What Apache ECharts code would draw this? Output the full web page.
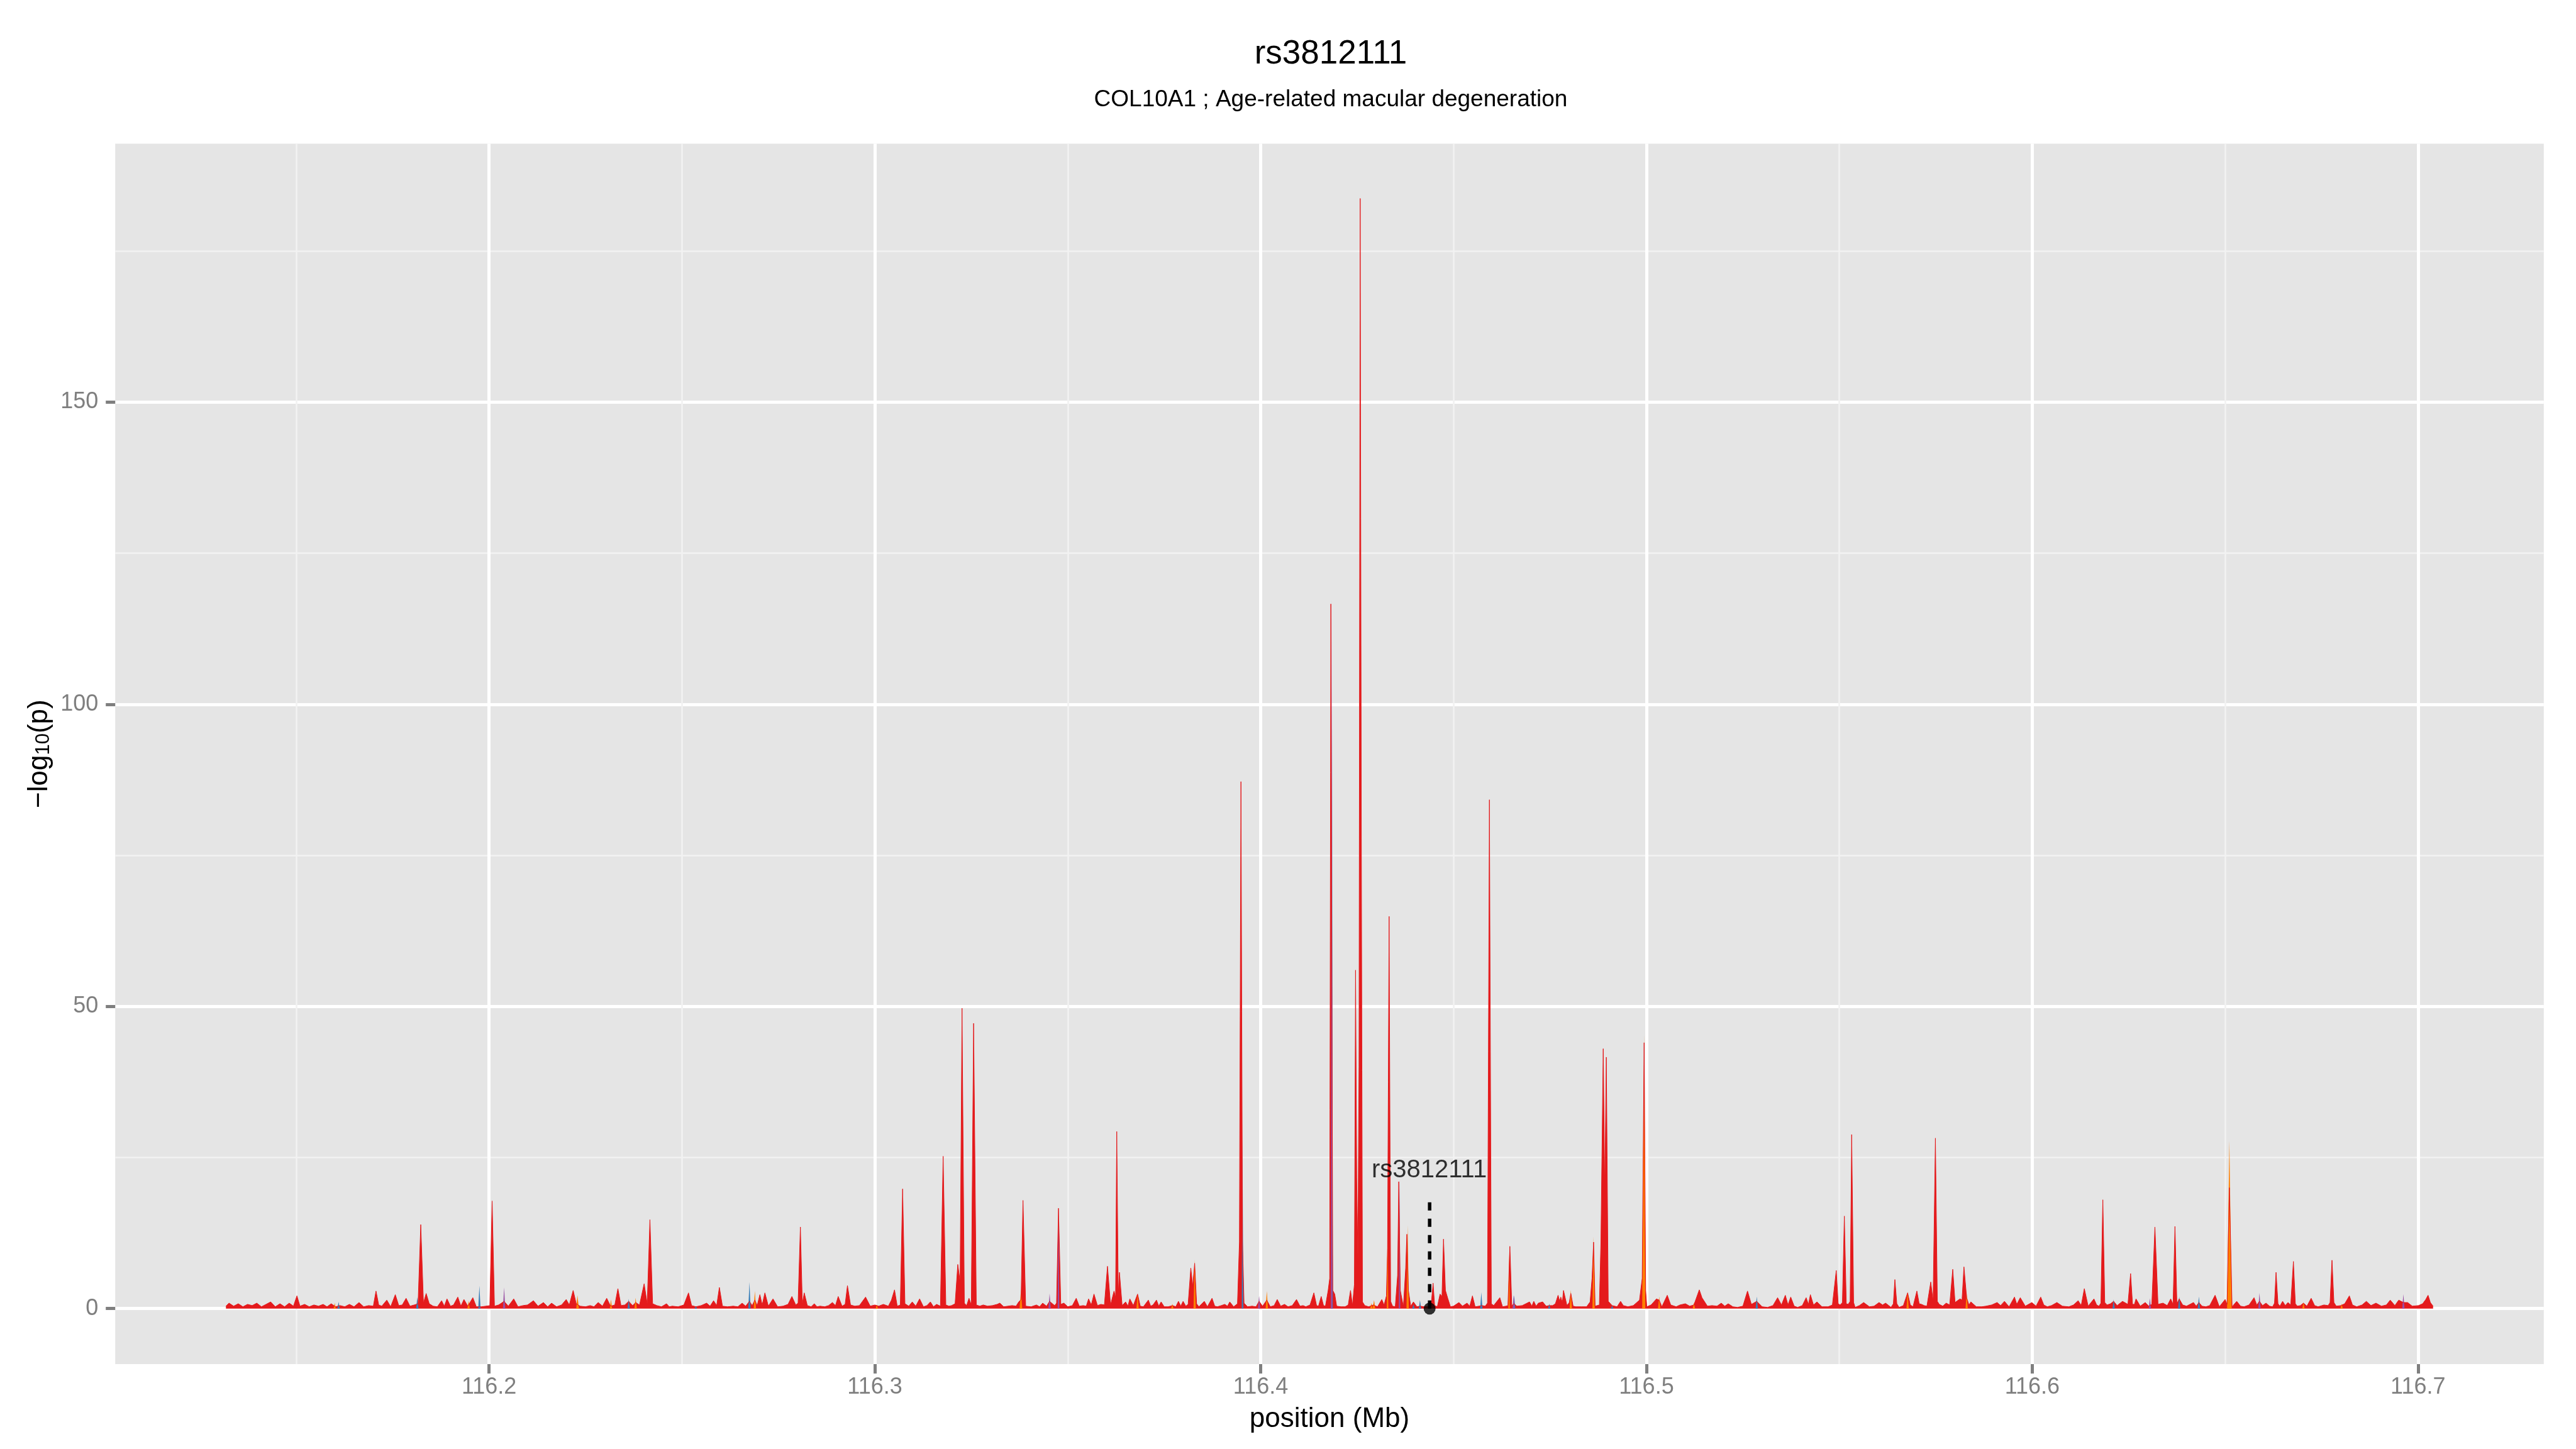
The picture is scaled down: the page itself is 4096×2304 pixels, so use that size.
<!DOCTYPE html>
<html>
<head>
<meta charset="utf-8">
<script src="https://cdn.jsdelivr.net/npm/echarts@6/dist/echarts.min.js"></script>
<style>
  html, body { margin: 0; padding: 0; background: #fff; }
  #chart { width: 4096px; height: 2304px; }
</style>
</head>
<body>
<div id="chart"></div>
<script>
// axis ranges (ggplot panel incl. expansion)
const X_MIN = 116.1031, X_MAX = 116.7326
const Y_MIN = -9.18, Y_MAX = 192.77
const xTicks = [116.2, 116.3, 116.4, 116.5, 116.6, 116.7]
const xMinorTicks = [116.15, 116.25, 116.35, 116.45, 116.55, 116.65]
const yTicks = [0, 50, 100, 150]
const yMinorTicks = [25, 75, 125, 175]

// lead SNP
const snpName = 'rs3812111'
const snpPos = 116.4438
const snpVal = 0
const snpLineTop = 18.4
const snpLabelVal = 22.9

// [position (Mb), -log10(p)]
const redPoints = [
  [116.1318,0.4],[116.1326,0.9],[116.1338,0.4],[116.1350,0.8],[116.1362,0.3],[116.1374,0.7],[116.1386,0.5],[116.1398,0.9],[116.1410,0.3],[116.1422,0.7],[116.1434,1.1],[116.1446,0.3],[116.1458,0.8],[116.1470,0.3],[116.1482,0.9],[116.1493,0.4],[116.1502,2.1],[116.1510,0.4],[116.1522,0.7],[116.1534,0.3],[116.1546,0.6],[116.1558,0.4],[116.1570,0.7],[116.1580,0.3],[116.1591,0.8],[116.1602,0.3],[116.1614,0.5],[116.1626,0.3],[116.1638,0.7],[116.1650,0.3],[116.1663,1.0],[116.1675,0.3],[116.1688,0.5],[116.1700,0.4],[116.1707,2.9],[116.1714,0.6],[116.1722,0.4],[116.1735,1.4],[116.1745,0.3],[116.1757,2.3],[116.1766,0.5],[116.1775,0.6],[116.1785,1.7],[116.1795,0.4],[116.1806,0.6],[116.1816,0.8],[116.1823,13.9],[116.1830,0.9],[116.1837,2.5],[116.1845,0.8],[116.1855,0.4],[116.1866,0.3],[116.1877,1.3],[116.1884,0.4],[116.1891,1.6],[116.1900,0.4],[116.1908,0.6],[116.1919,1.9],[116.1927,0.4],[116.1935,1.5],[116.1945,0.4],[116.1958,1.8],[116.1967,0.3],[116.1980,0.3],[116.1992,0.4],[116.2002,0.5],[116.2008,17.8],[116.2014,0.4],[116.2025,0.6],[116.2039,1.2],[116.2050,0.4],[116.2064,1.6],[116.2075,0.3],[116.2088,0.5],[116.2100,0.6],[116.2115,1.3],[116.2127,0.4],[116.2141,1.0],[116.2152,0.3],[116.2162,0.9],[116.2175,0.3],[116.2188,0.6],[116.2200,1.5],[116.2208,0.6],[116.2218,3.0],[116.2226,0.8],[116.2236,0.4],[116.2250,0.3],[116.2262,0.5],[116.2272,0.3],[116.2283,1.0],[116.2294,0.4],[116.2305,1.7],[116.2315,0.4],[116.2326,0.6],[116.2334,3.3],[116.2342,0.5],[116.2352,0.6],[116.2362,1.2],[116.2372,0.5],[116.2380,1.0],[116.2390,0.6],[116.2402,4.1],[116.2410,0.8],[116.2417,14.7],[116.2424,0.8],[116.2435,0.5],[116.2447,0.3],[116.2460,0.8],[116.2467,0.3],[116.2475,0.4],[116.2490,0.3],[116.2505,0.6],[116.2517,2.6],[116.2525,0.5],[116.2536,0.3],[116.2550,0.5],[116.2564,0.9],[116.2573,0.4],[116.2582,1.3],[116.2590,0.5],[116.2597,3.5],[116.2605,0.4],[116.2618,0.3],[116.2633,0.4],[116.2645,0.3],[116.2656,0.9],[116.2665,0.4],[116.2675,1.2],[116.2682,0.5],[116.2689,1.4],[116.2695,0.5],[116.2702,2.3],[116.2708,0.6],[116.2715,2.6],[116.2724,0.4],[116.2736,1.6],[116.2748,0.3],[116.2762,0.4],[116.2775,0.7],[116.2785,2.0],[116.2795,0.6],[116.2801,0.9],[116.2807,13.5],[116.2812,0.8],[116.2817,2.6],[116.2825,0.5],[116.2835,0.3],[116.2843,0.8],[116.2850,0.3],[116.2858,0.4],[116.2870,0.3],[116.2880,0.5],[116.2890,1.0],[116.2898,0.5],[116.2905,2.0],[116.2915,0.4],[116.2923,0.7],[116.2929,3.8],[116.2937,0.6],[116.2948,0.4],[116.2960,0.5],[116.2976,1.9],[116.2988,0.4],[116.3000,0.6],[116.3010,0.4],[116.3022,0.7],[116.3035,0.4],[116.3043,1.4],[116.3051,3.1],[116.3058,0.4],[116.3066,0.6],[116.3072,19.8],[116.3078,0.8],[116.3088,0.4],[116.3097,1.1],[116.3106,0.4],[116.3116,1.6],[116.3126,0.3],[116.3135,0.5],[116.3144,1.1],[116.3152,0.3],[116.3160,0.7],[116.3170,0.4],[116.3177,25.2],[116.3184,0.6],[116.3192,0.4],[116.3199,0.5],[116.3208,0.8],[116.3215,7.3],[116.3221,4.4],[116.3226,49.7],[116.3232,0.9],[116.3238,0.5],[116.3244,1.7],[116.3250,0.6],[116.3256,47.2],[116.3263,0.6],[116.3272,0.4],[116.3281,0.6],[116.3292,0.4],[116.3305,0.5],[116.3317,0.7],[116.3324,0.9],[116.3334,0.3],[116.3345,0.4],[116.3356,0.5],[116.3366,0.4],[116.3373,1.1],[116.3379,1.5],[116.3384,17.9],[116.3391,0.4],[116.3405,0.3],[116.3419,0.6],[116.3427,0.3],[116.3435,0.9],[116.3445,0.4],[116.3453,1.2],[116.3466,0.5],[116.3471,0.9],[116.3476,16.6],[116.3482,0.7],[116.3490,0.9],[116.3500,0.3],[116.3512,0.5],[116.3522,1.7],[116.3530,0.4],[116.3540,0.5],[116.3548,0.4],[116.3554,1.6],[116.3561,0.6],[116.3568,2.4],[116.3577,0.5],[116.3586,0.7],[116.3595,0.6],[116.3603,7.0],[116.3611,0.6],[116.3620,2.9],[116.3624,1.8],[116.3627,29.3],[116.3631,2.2],[116.3634,6.0],[116.3641,0.5],[116.3650,1.1],[116.3656,0.4],[116.3661,1.6],[116.3670,0.5],[116.3681,2.4],[116.3688,0.4],[116.3696,0.3],[116.3709,1.4],[116.3715,0.4],[116.3721,0.6],[116.3730,1.4],[116.3736,0.4],[116.3742,1.1],[116.3750,0.3],[116.3760,0.3],[116.3772,0.5],[116.3780,0.3],[116.3787,1.2],[116.3793,0.4],[116.3799,1.2],[116.3806,0.4],[116.3812,0.7],[116.3819,6.7],[116.3824,3.7],[116.3829,7.5],[116.3834,0.8],[116.3840,0.3],[116.3854,1.2],[116.3862,0.3],[116.3874,1.7],[116.3881,0.4],[116.3888,0.3],[116.3898,0.5],[116.3907,0.7],[116.3914,0.4],[116.3920,1.1],[116.3930,0.3],[116.3940,0.8],[116.3945,11.0],[116.3949,87.2],[116.3953,11.0],[116.3957,0.9],[116.3966,0.3],[116.3978,0.4],[116.3988,0.3],[116.3996,1.2],[116.4005,0.4],[116.4016,1.4],[116.4025,0.3],[116.4035,0.5],[116.4043,1.5],[116.4052,0.4],[116.4062,0.7],[116.4071,0.3],[116.4082,0.5],[116.4093,1.5],[116.4102,0.4],[116.4110,0.5],[116.4117,0.3],[116.4128,0.6],[116.4138,2.6],[116.4145,0.5],[116.4150,0.4],[116.4157,2.0],[116.4163,0.5],[116.4168,0.4],[116.4175,3.0],[116.4179,5.0],[116.4182,116.6],[116.4187,3.0],[116.4192,2.4],[116.4197,0.4],[116.4208,0.3],[116.4219,0.3],[116.4227,0.6],[116.4233,3.0],[116.4238,0.5],[116.4243,4.0],[116.4246,56.0],[116.4249,21.7],[116.4252,8.0],[116.4255,40.0],[116.4258,183.7],[116.4261,77.8],[116.4264,1.1],[116.4270,0.5],[116.4280,0.3],[116.4292,0.6],[116.4303,0.3],[116.4314,1.5],[116.4320,0.6],[116.4326,2.1],[116.4329,10.0],[116.4333,64.9],[116.4337,1.2],[116.4342,0.4],[116.4349,0.3],[116.4355,5.5],[116.4358,21.0],[116.4362,3.0],[116.4370,0.3],[116.4376,6.7],[116.4379,12.3],[116.4383,3.0],[116.4389,0.4],[116.4396,1.1],[116.4405,0.3],[116.4414,0.4],[116.4423,0.3],[116.4433,0.3],[116.4442,0.6],[116.4447,4.2],[116.4451,0.5],[116.4458,0.3],[116.4465,2.4],[116.4470,2.0],[116.4474,11.5],[116.4479,3.0],[116.4485,1.7],[116.4492,0.3],[116.4500,0.4],[116.4514,1.0],[116.4523,0.4],[116.4535,0.9],[116.4542,0.4],[116.4549,2.1],[116.4556,0.3],[116.4566,0.4],[116.4574,0.5],[116.4582,0.4],[116.4588,0.9],[116.4593,84.2],[116.4598,0.8],[116.4604,0.5],[116.4609,0.9],[116.4620,1.8],[116.4627,0.3],[116.4636,0.4],[116.4641,0.5],[116.4646,10.3],[116.4651,0.5],[116.4657,0.8],[116.4664,0.4],[116.4678,0.5],[116.4697,1.1],[116.4703,0.4],[116.4708,1.2],[116.4714,0.4],[116.4720,0.9],[116.4731,1.1],[116.4740,0.4],[116.4748,0.5],[116.4757,0.5],[116.4764,0.8],[116.4771,2.2],[116.4775,1.2],[116.4778,1.9],[116.4782,1.0],[116.4785,3.0],[116.4794,0.5],[116.4800,1.0],[116.4804,2.5],[116.4810,0.4],[116.4817,0.3],[116.4831,0.3],[116.4845,0.3],[116.4854,1.1],[116.4859,5.0],[116.4863,11.0],[116.4867,0.4],[116.4878,0.6],[116.4882,11.0],[116.4888,43.0],[116.4892,19.3],[116.4896,41.6],[116.4901,1.2],[116.4911,0.5],[116.4924,0.3],[116.4933,1.2],[116.4940,0.5],[116.4952,0.3],[116.4966,0.5],[116.4982,1.4],[116.4989,5.0],[116.4994,44.0],[116.4998,3.0],[116.5001,0.3],[116.5012,0.6],[116.5026,1.6],[116.5033,1.4],[116.5040,0.3],[116.5054,2.2],[116.5063,0.6],[116.5077,0.3],[116.5087,0.6],[116.5101,0.8],[116.5112,0.4],[116.5123,0.6],[116.5137,3.1],[116.5144,1.8],[116.5158,0.4],[116.5170,0.5],[116.5183,0.4],[116.5194,0.9],[116.5203,0.4],[116.5212,0.8],[116.5224,0.3],[116.5236,0.2],[116.5250,0.4],[116.5262,2.9],[116.5272,0.7],[116.5286,1.2],[116.5300,0.3],[116.5314,0.2],[116.5328,0.5],[116.5340,1.8],[116.5350,0.6],[116.5360,2.2],[116.5367,0.6],[116.5374,1.9],[116.5383,0.4],[116.5392,0.2],[116.5404,0.5],[116.5414,1.8],[116.5420,0.7],[116.5425,2.3],[116.5433,0.6],[116.5442,1.1],[116.5455,0.3],[116.5471,0.3],[116.5482,0.6],[116.5492,6.3],[116.5497,0.8],[116.5502,0.6],[116.5508,1.0],[116.5513,15.3],[116.5518,0.8],[116.5523,0.7],[116.5528,1.2],[116.5532,28.8],[116.5537,1.0],[116.5541,0.2],[116.5552,0.5],[116.5563,1.0],[116.5578,0.3],[116.5590,0.4],[116.5603,1.0],[116.5612,0.6],[116.5620,0.9],[116.5634,0.2],[116.5640,0.8],[116.5644,4.8],[116.5649,0.8],[116.5655,0.2],[116.5666,0.5],[116.5677,2.6],[116.5684,0.6],[116.5691,0.3],[116.5701,2.9],[116.5707,0.8],[116.5713,0.7],[116.5720,0.5],[116.5727,0.4],[116.5737,4.4],[116.5743,1.2],[116.5749,28.2],[116.5754,1.2],[116.5759,0.7],[116.5768,0.4],[116.5777,0.9],[116.5786,0.6],[116.5794,6.5],[116.5800,1.0],[116.5806,1.3],[116.5813,1.6],[116.5818,1.4],[116.5823,6.9],[116.5830,1.8],[116.5836,0.6],[116.5841,1.1],[116.5855,0.3],[116.5869,0.3],[116.5880,0.4],[116.5895,0.6],[116.5909,1.0],[116.5918,0.5],[116.5928,1.2],[116.5940,0.3],[116.5954,1.9],[116.5960,0.7],[116.5969,1.8],[116.5982,0.4],[116.5999,1.0],[116.6010,0.4],[116.6022,1.9],[116.6030,0.6],[116.6039,0.3],[116.6050,0.5],[116.6064,1.0],[116.6078,0.4],[116.6095,0.3],[116.6107,0.6],[116.6119,1.3],[116.6127,0.5],[116.6135,3.3],[116.6145,0.4],[116.6160,1.6],[116.6167,0.6],[116.6173,0.4],[116.6178,0.9],[116.6183,18.0],[116.6188,1.0],[116.6194,0.6],[116.6203,0.8],[116.6211,1.2],[116.6220,0.5],[116.6234,1.2],[116.6248,0.7],[116.6255,5.8],[116.6260,0.7],[116.6265,0.7],[116.6269,1.6],[116.6280,0.4],[116.6293,1.0],[116.6302,0.4],[116.6310,0.7],[116.6318,13.5],[116.6326,0.7],[116.6339,0.9],[116.6350,0.5],[116.6359,1.6],[116.6365,0.7],[116.6370,13.6],[116.6375,0.8],[116.6381,1.6],[116.6390,0.6],[116.6400,0.4],[116.6418,1.0],[116.6425,0.4],[116.6432,1.0],[116.6440,0.4],[116.6450,0.3],[116.6460,0.5],[116.6474,2.2],[116.6485,0.3],[116.6500,1.5],[116.6505,0.7],[116.6511,20.0],[116.6518,0.3],[116.6530,1.2],[116.6540,0.4],[116.6549,0.3],[116.6562,0.6],[116.6575,1.8],[116.6582,0.6],[116.6589,1.2],[116.6597,0.5],[116.6606,0.9],[116.6615,0.4],[116.6623,0.3],[116.6628,0.9],[116.6632,6.0],[116.6637,0.8],[116.6642,0.4],[116.6649,1.2],[116.6656,0.5],[116.6663,1.0],[116.6670,0.6],[116.6677,7.8],[116.6682,0.8],[116.6687,0.4],[116.6695,0.5],[116.6703,0.9],[116.6712,0.4],[116.6723,1.7],[116.6732,0.5],[116.6741,0.3],[116.6756,0.6],[116.6767,0.5],[116.6772,1.0],[116.6777,8.0],[116.6782,1.0],[116.6788,0.4],[116.6800,0.5],[116.6810,0.8],[116.6822,2.1],[116.6830,0.6],[116.6841,0.3],[116.6855,0.6],[116.6866,1.2],[116.6878,0.5],[116.6891,0.9],[116.6905,0.4],[116.6918,0.6],[116.6928,1.4],[116.6940,0.5],[116.6950,1.4],[116.6962,1.0],[116.6973,1.0],[116.6985,0.4],[116.7001,0.5],[116.7012,0.8],[116.7020,1.5],[116.7026,2.2],[116.7032,1.0],[116.7039,0.4]
]

const orangePoints = [
  [116.1597,0],[116.1600,0.9],[116.1603,0],[116.1944,0],[116.1947,1.3],[116.1950,0],
  [116.2226,0],[116.2229,2.2],[116.2233,0],[116.2313,0],[116.2316,1.5],[116.2319,0],
  [116.2377,0],[116.2380,1.8],[116.2383,0],[116.2686,0],[116.2689,2.9],[116.2692,0],
  [116.3002,0],[116.3005,0.6],[116.3008,0],[116.3375,0],[116.3379,3.2],[116.3382,0],
  [116.3678,0],[116.3681,2.4],[116.3684,0],[116.3768,0],[116.3771,0.8],[116.3774,0],
  [116.3826,0],[116.3829,8.1],[116.3832,0],[116.4013,0],[116.4016,2.9],[116.4019,0],
  [116.4284,0],[116.4287,0.9],[116.4290,0],[116.4294,1.4],[116.4297,0],
  [116.4327,0],[116.4329,12.1],[116.4331,0],[116.4378,0],[116.4381,13.8],[116.4384,0],
  [116.4642,0],[116.4644,9.0],[116.4646,0],[116.4801,0],[116.4804,3.1],[116.4807,0],
  [116.4860,0],[116.4863,12.0],[116.4866,0],[116.4989,0],[116.4994,45.5],[116.4997,0],
  [116.5030,0],[116.5033,2.0],[116.5036,0],[116.5120,0],[116.5123,1.0],[116.5126,0],
  [116.5674,0],[116.5677,2.8],[116.5680,0],[116.5827,0],[116.5830,2.5],[116.5833,0],
  [116.6505,0],[116.6511,27.8],[116.6517,0],[116.6700,0],[116.6703,1.0],[116.6706,0],
  [116.6799,0],[116.6802,0.8],[116.6805,0]
]

const bluePoints = [
  [116.1607,0],[116.1610,1.1],[116.1613,0],[116.1811,0],[116.1814,1.9],[116.1817,0],
  [116.1972,0],[116.1975,3.8],[116.1978,0],[116.2359,0],[116.2362,1.6],[116.2365,0],
  [116.2533,0],[116.2536,0.4],[116.2539,0],[116.2672,0],[116.2675,4.4],[116.2678,0],
  [116.3951,0],[116.3953,28.3],[116.3955,0],[116.4183,0],[116.4185,100.0],[116.4187,0],
  [116.4393,0],[116.4396,0.7],[116.4399,0],[116.4410,0],[116.4413,1.4],[116.4416,0],
  [116.4569,0],[116.4572,2.7],[116.4575,0],[116.4654,0],[116.4657,2.2],[116.4660,0],
  [116.4745,0],[116.4748,0.8],[116.4751,0],[116.4908,0],[116.4911,0.5],[116.4914,0],
  [116.5283,0],[116.5286,2.0],[116.5289,0],[116.6208,0],[116.6211,1.5],[116.6214,0],
  [116.6378,0],[116.6381,2.0],[116.6384,0],[116.6429,0],[116.6432,2.0],[116.6435,0]
]

const purplePoints = [
  [116.2036,0],[116.2039,3.5],[116.2042,0],[116.3450,0],[116.3453,2.5],[116.3456,0],
  [116.3474,0],[116.3476,16.6],[116.3478,0],[116.3993,0],[116.3996,2.1],[116.3999,0],
  [116.4182,0],[116.4184,118.9],[116.4186,0],[116.4358,0],[116.4360,21.7],[116.4362,0],
  [116.4653,0],[116.4656,2.2],[116.4659,0],[116.6302,0],[116.6305,1.7],[116.6308,0],
  [116.6586,0],[116.6589,2.6],[116.6592,0],[116.6959,0],[116.6962,2.4],[116.6965,0]
]

const FONT = "'Liberation Sans', Arial, Helvetica, sans-serif"
const TICK_GREY = '#7F7F7F'

const chart = echarts.init(document.getElementById('chart'))

function areaSeries(name, data, color, lineWidth) {
  return {
    name,
    type: 'line',
    data,
    xAxisIndex: 1,
    yAxisIndex: 1,
    symbol: 'none',
    smooth: false,
    silent: true,
    lineStyle: { color, width: lineWidth },
    areaStyle: { color, opacity: 1 },
    z: 2
  }
}

const option = {
  animation: false,
  backgroundColor: '#FFFFFF',
  title: [
    {
      text: 'rs3812111',
      left: 2111, top: 55, textAlign: 'center',
      textStyle: { fontFamily: FONT, fontSize: 53, fontWeight: 'normal', color: '#000' }
    },
    {
      text: 'COL10A1 ; Age-related macular degeneration',
      left: 2111, top: 135, textAlign: 'center',
      textStyle: { fontFamily: FONT, fontSize: 37, fontWeight: 'normal', color: '#000' }
    }
  ],
  grid: {
    left: 183.2, top: 228.4, width: 3861.6, height: 1940.5,
    show: true, backgroundColor: '#E5E5E5', borderWidth: 0,
    containLabel: false, outerBoundsMode: 'none'
  },
  xAxis: [
    {
      type: 'value', min: X_MIN, max: X_MAX, position: 'bottom',
      axisLine: { show: false, onZero: false },
      axisTick: { show: false, customValues: xMinorTicks },
      axisLabel: { show: false, customValues: xMinorTicks },
      splitLine: { show: true, lineStyle: { color: '#F2F2F2', width: 2.6 } }
    },
    {
      type: 'value', min: X_MIN, max: X_MAX, position: 'bottom',
      axisLine: { show: false, onZero: false },
      axisTick: { show: true, customValues: xTicks, length: 15, lineStyle: { color: TICK_GREY, width: 5 } },
      axisLabel: {
        customValues: xTicks, formatter: v => v.toFixed(1), margin: 19,
        fontFamily: FONT, fontSize: 36, color: TICK_GREY
      },
      splitLine: { show: true, lineStyle: { color: '#FFFFFF', width: 5 } },
      name: 'position (Mb)', nameLocation: 'middle', nameGap: 66,
      nameTextStyle: { fontFamily: FONT, fontSize: 44, color: '#000' }
    }
  ],
  yAxis: [
    {
      type: 'value', min: Y_MIN, max: Y_MAX, position: 'left',
      axisLine: { show: false, onZero: false },
      axisTick: { show: false, customValues: yMinorTicks },
      axisLabel: { show: false, customValues: yMinorTicks },
      splitLine: { show: true, lineStyle: { color: '#F2F2F2', width: 2.6 } }
    },
    {
      type: 'value', min: Y_MIN, max: Y_MAX, position: 'left',
      axisLine: { show: false, onZero: false },
      axisTick: { show: true, customValues: yTicks, length: 15, lineStyle: { color: TICK_GREY, width: 5 } },
      axisLabel: {
        customValues: yTicks, margin: 27,
        fontFamily: FONT, fontSize: 36, color: TICK_GREY
      },
      splitLine: { show: true, lineStyle: { color: '#FFFFFF', width: 5 } },
      name: '{m|\u2212log}{s|10}{m|(p)}', nameLocation: 'middle', nameGap: 95, nameRotate: 90,
      nameTextStyle: {
        fontFamily: FONT, color: '#000',
        rich: {
          m: { fontFamily: FONT, fontSize: 44, lineHeight: 44, verticalAlign: 'top', color: '#000' },
          s: { fontFamily: FONT, fontSize: 31, lineHeight: 31, verticalAlign: 'bottom', padding: [20, 0, 0, 0], color: '#000' }
        }
      }
    }
  ],
  series: [
    areaSeries('red', redPoints, '#E41A1C', 1),
    areaSeries('orange', orangePoints, '#FF7F00', 0),
    areaSeries('blue', bluePoints, '#377EB8', 0),
    areaSeries('purple', purplePoints, '#984EA3', 0),
    {
      name: 'snpLine',
      type: 'line',
      xAxisIndex: 1, yAxisIndex: 1,
      data: [[snpPos, snpVal], [snpPos, snpLineTop]],
      symbol: 'none', silent: true,
      lineStyle: { color: '#000', width: 5.5, type: [13, 13] },
      z: 5
    },
    {
      name: 'snpPoint',
      type: 'scatter',
      xAxisIndex: 1, yAxisIndex: 1,
      data: [[snpPos, snpVal]],
      symbol: 'circle', symbolSize: 19, silent: true,
      itemStyle: { color: '#000' },
      z: 6
    },
    {
      name: 'snpLabel',
      type: 'scatter',
      xAxisIndex: 1, yAxisIndex: 1,
      data: [[snpPos - 0.0001, snpLabelVal]],
      symbolSize: 0, silent: true,
      label: {
        show: true, position: 'inside', formatter: snpName,
        fontFamily: FONT, fontSize: 40, color: '#000'
      },
      z: 6
    }
  ]
}

chart.setOption(option)
</script>
</body>
</html>
